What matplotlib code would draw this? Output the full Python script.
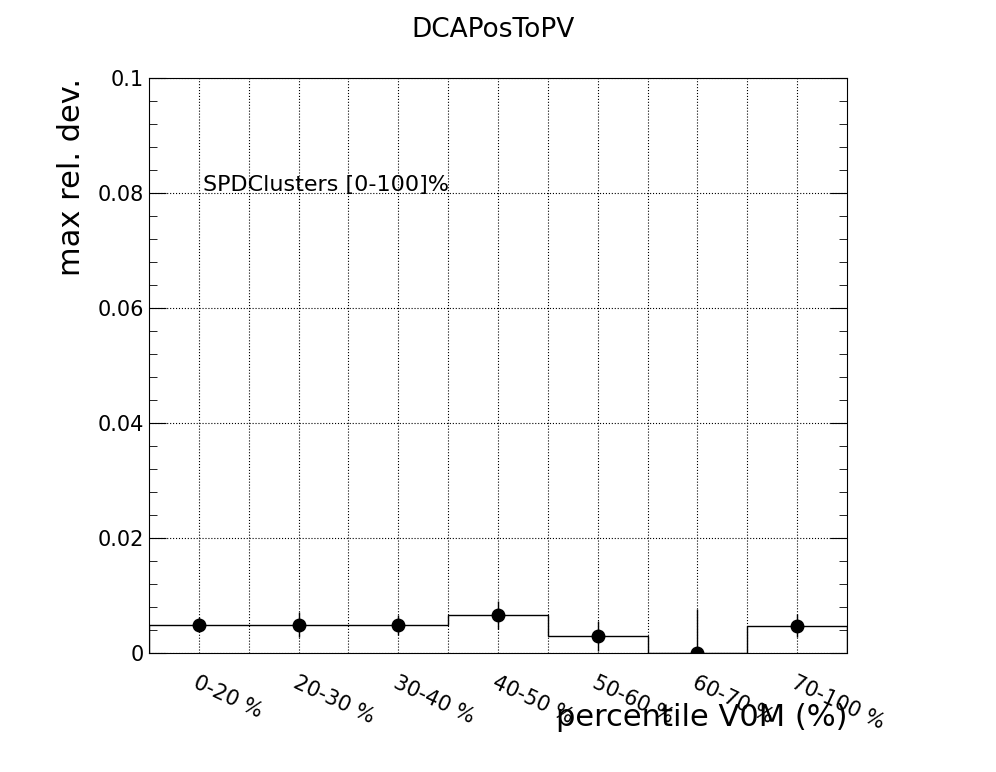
import matplotlib
matplotlib.use("Agg")
import matplotlib.pyplot as plt
import numpy as np
from matplotlib.ticker import MultipleLocator

labels = ["0-20 %", "20-30 %", "30-40 %", "40-50 %", "50-60 %", "60-70 %", "70-100 %"]
values = [0.0049, 0.0049, 0.0049, 0.0066, 0.0029, 0.0, 0.0047]
errors = [0.0013, 0.0022, 0.0017, 0.0025, 0.0026, 0.0077, 0.0020]

fig = plt.figure(figsize=(9.96, 7.72), dpi=100)
ax = fig.add_axes([149/996, 1-653/772, (847-149)/996, (653-78)/772])
n = len(values)
x = np.arange(n) + 0.5
ax.stairs(values, np.arange(n+1), color="black", lw=1)
ax.errorbar(x, values, yerr=errors, fmt="o", color="black", ms=9, elinewidth=1, capsize=0)
ax.set_xlim(0, n)
ax.set_ylim(0, 0.1)
ax.set_xticks(x)
ax.set_xticklabels(labels, rotation=-25, ha="left", rotation_mode="anchor", fontsize=15)
ax.tick_params(axis="x", length=0, pad=14)
ax.yaxis.set_major_locator(MultipleLocator(0.02))
ax.yaxis.set_minor_locator(MultipleLocator(0.004))
ax.set_yticks([0, 0.02, 0.04, 0.06, 0.08, 0.1])
ax.set_yticklabels(["0", "0.02", "0.04", "0.06", "0.08", "0.1"], fontsize=15)
ax.tick_params(axis="y", which="major", direction="in", length=12, right=True)
ax.tick_params(axis="y", which="minor", direction="in", length=6, right=True)
ax.grid(True, which="major", axis="both", linestyle=":", color="black", lw=0.8)
ax.set_xticks(np.arange(1, n), minor=True)
ax.grid(True, which="minor", axis="x", linestyle=":", color="black", lw=0.8)
ax.tick_params(axis="x", which="minor", length=0)
fig.text(493/996, 1-30/772, "DCAPosToPV", ha="center", va="center", fontsize=19)
fig.text(72/996, 1-78/772, "max rel. dev.", rotation=90, ha="center", va="top", fontsize=22)
fig.text(847/996, 1-718/772, "percentile V0M (%)", ha="right", va="center", fontsize=22)
ax.text(203/996*996/698 - 149/698, (653-185)/575, "SPDClusters [0-100]%", transform=ax.transAxes,
        fontsize=16, va="center", ha="left")
fig.savefig("out.png", dpi=100)
